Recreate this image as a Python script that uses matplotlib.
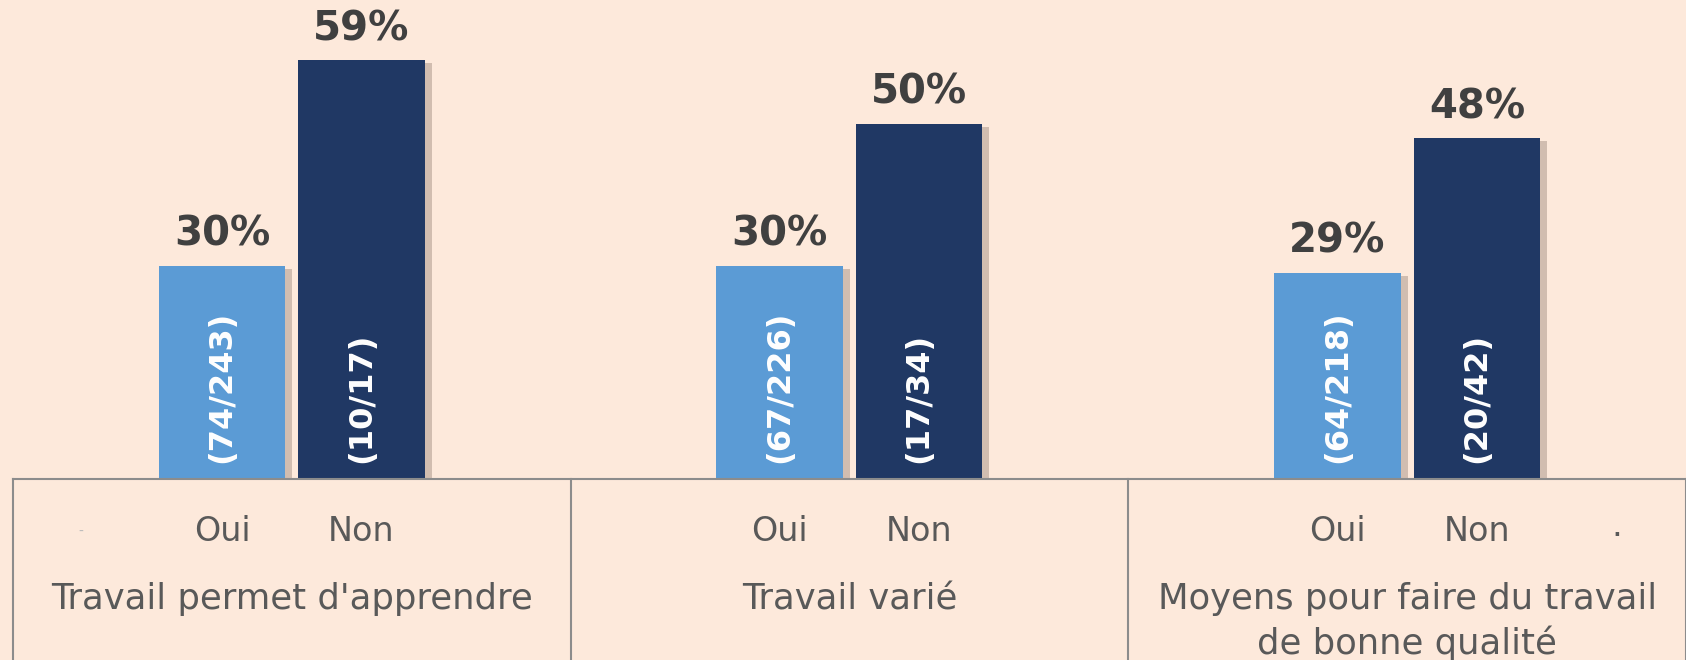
import matplotlib

matplotlib.use("Agg")
import matplotlib.pyplot as plt
import matplotlib.patheffects as pe
import numpy as np
from matplotlib.transforms import blended_transform_factory

categories = ["Travail permet d'apprendre", "Travail varié",
              "Moyens pour faire du travail\nde bonne qualité"]
answers = ["Oui", "Non"]
pct_oui = [30, 30, 29]
pct_non = [59, 50, 48]
counts_oui = ["(74/243)", "(67/226)", "(64/218)"]
counts_non = ["(10/17)", "(17/34)", "(20/42)"]

BG = "#fde9db"
C_OUI = "#5b9bd5"
C_NON = "#203864"
TXT = "#595959"
LINE = "#8c8c8c"

plt.rcParams["font.family"] = ["DejaVu Sans"]

fig = plt.figure(figsize=(16.86, 6.6), dpi=100, facecolor=BG)
ax = fig.add_axes([12.9 / 1686, 1 - 478.5 / 660, 1 - 12.9 / 1686, 478.5 / 660])
ax.set_facecolor(BG)

x = np.arange(len(categories))
w = 0.227
off = 0.125
shadow = [pe.SimplePatchShadow(offset=(5, -2), shadow_rgbFace="#6e5a4e", alpha=0.3), pe.Normal()]

bars_oui = ax.bar(x - off, pct_oui, width=w, color=C_OUI, path_effects=shadow, zorder=2)
bars_non = ax.bar(x + off, pct_non, width=w, color=C_NON, path_effects=shadow, zorder=2)

for bars, vals, counts in [(bars_oui, pct_oui, counts_oui), (bars_non, pct_non, counts_non)]:
    for b, v, c in zip(bars, vals, counts):
        cx = b.get_x() + b.get_width() / 2
        ax.annotate(f"{v}%", (cx, v), xytext=(0, 8), textcoords="offset points",
                    ha="center", va="bottom", fontsize=29, fontweight="bold", color="#404040")
        ax.text(cx, 2.2, c, rotation=90, ha="center", va="bottom", fontsize=23,
                color="white", fontweight="bold")

ax.set_xlim(-0.5, 2.5)
ax.set_ylim(0, 67.5)
ax.set_yticks([])
for s in ["top", "right", "left"]:
    ax.spines[s].set_visible(False)
ax.spines["bottom"].set_color(LINE)
ax.spines["bottom"].set_linewidth(1.5)

pos = np.concatenate([x - off, x + off])
ax.set_xticks(pos, answers[:1] * 3 + answers[1:] * 3)
ax.tick_params(axis="x", length=0, pad=26, labelsize=24, labelcolor=TXT)

# category separators and labels under the axis
tr = blended_transform_factory(ax.transData, fig.transFigure)
base = 1 - 478.5 / 660
for sx in np.arange(-0.5, 3.0, 1.0):
    ax.plot([sx, sx], [base, 0], transform=tr, color=LINE, lw=1.5, clip_on=False)
for xi, cat in zip(x, categories):
    fig.text(xi, 1 - 582 / 660, cat, transform=tr, ha="center", va="top",
             fontsize=25.5, color=TXT, linespacing=1.32)

# stray marks present in the original
fig.text(-0.379, 1 - 532 / 660, "-", transform=tr, ha="center", va="center", fontsize=10, color="#bbbbbb")
fig.text(2.376, 1 - 527 / 660, ".", transform=tr, ha="center", va="center", fontsize=24, color=TXT)

fig.savefig("out.png", dpi=100, facecolor=BG)
